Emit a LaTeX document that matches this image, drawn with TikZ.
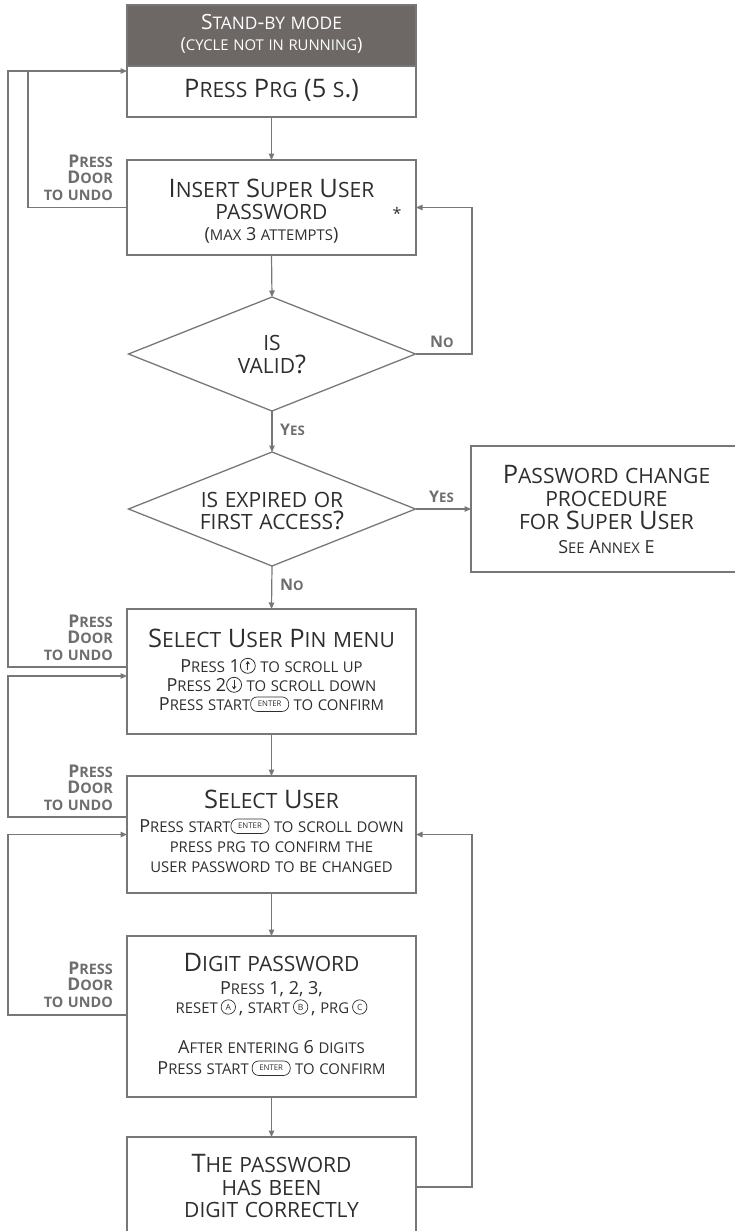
\documentclass[tikz,border=0pt]{standalone}
\usepackage{fontspec}
\setmainfont{Open Sans}
\usetikzlibrary{arrows.meta,shapes.geometric}
\definecolor{lnc}{HTML}{777777}
\definecolor{hdrc}{HTML}{6D6866}
\definecolor{txtc}{HTML}{2E2E2E}
\definecolor{lblc}{HTML}{6E6E6E}
\makeatletter
\newcommand\scsz{\fontsize{\fpeval{0.825*\f@size}}{\f@baselineskip}\selectfont}
\makeatother
\ExplSyntaxOn
\NewDocumentCommand\fsc{m}
 {
  \str_map_inline:nn {#1}
   {
    \str_if_in:nnTF {abcdefghijklmnopqrstuvwxyz} {##1}
     { { \scsz \uppercase{##1} } }
     { ##1 }
   }
 }
\ExplSyntaxOff
\newcommand\fT{\fontsize{25.5}{23}\selectfont}
\newcommand\fS{\fontsize{18}{19}\selectfont}
\newcommand\fH{\fontsize{21}{21}\selectfont}
\newcommand\fL{\bfseries\fontsize{17.5}{16.5}\selectfont}
\newcommand\fY{\bfseries\fontsize{16}{18}\selectfont}
\newcommand\circup{\tikz[x=1pt,y=1pt,baseline=0pt]{\draw[txtc,line width=0.8pt] (0,6.2) circle[radius=7.5];\draw[txtc,line width=0.9pt,-{Stealth[length=3.5pt,width=4.5pt]}] (0,1.6) -- (0,11);}}
\newcommand\circdown{\tikz[x=1pt,y=1pt,baseline=0pt]{\draw[txtc,line width=0.8pt] (0,6.2) circle[radius=7.5];\draw[txtc,line width=0.9pt,-{Stealth[length=3.5pt,width=4.5pt]}] (0,10.8) -- (0,1.4);}}
\newcommand\circlet[1]{\tikz[x=1pt,y=1pt,baseline=0pt]{\draw[txtc,line width=0.7pt] (0,6) circle[radius=7.2];\node[anchor=center,inner sep=0pt,text=txtc,font=\fontsize{8.5}{8.5}\selectfont] (cl) at (0,6) {#1};}}
\newcommand\enterkey{\tikz[x=1pt,y=1pt,baseline=0pt]{\node[anchor=center,draw=txtc,line width=0.7pt,rounded corners=6.5pt,inner sep=0pt,minimum width=38pt,minimum height=14.5pt,text=txtc,font=\fontsize{7.8}{8}\selectfont] (ek) at (0,5.8) {ENTER};}}
\begin{document}
\begin{tikzpicture}[x=1pt,y=-1pt,
  bx/.style={draw=lnc,line width=1.3pt,minimum width=289pt,inner sep=0pt,outer sep=0pt},
  dia/.style={draw=lnc,line width=1.3pt,diamond,minimum width=287pt,minimum height=114pt,inner sep=0pt,outer sep=0pt},
  arr/.style={draw=lnc,line width=1.2pt,-{Triangle[length=6.5pt,width=5.5pt]}},
  wire/.style={draw=lnc,line width=1.2pt},
  tx/.style={inner sep=0pt,anchor=base,text=txtc},
  lb/.style={inner sep=0pt,anchor=base east,text=lblc,font=\fL},
  yn/.style={inner sep=0pt,anchor=base west,text=lblc,font=\fY}]
\useasboundingbox (0,0) rectangle (735,1231);
\clip (0,0) rectangle (735,1231);
% boxes
\node[bx,fill=hdrc,minimum height=61pt] (hdr) at (271.5,35.5) {};
\node[bx,minimum height=51pt] (prg) at (271.5,91.5) {};
\node[bx,minimum height=95pt] (ins) at (271.5,207.5) {};
\node[dia] (d1) at (272,354) {};
\node[dia] (d2) at (272,509) {};
\node[bx,minimum width=271pt,minimum height=126pt] (pc) at (606.5,509) {};
\node[bx,minimum height=125pt] (pin) at (271.5,671.5) {};
\node[bx,minimum height=117pt] (su) at (271.5,834.5) {};
\node[bx,minimum height=161pt] (dg) at (271.5,1016.5) {};
\node[bx,minimum height=100pt] (fin) at (271.5,1187) {};
% texts
\node[tx,text=white,font=\fH] (h1) at (271.5,30) {\fsc{Stand-by mode}};
\node[tx,text=white,font=\fS] (h2) at (271.5,51) {\fsc{(cycle not in running)}};
\node[tx,font=\fT] (p1) at (271.5,97) {\fsc{Press Prg (5 s.)}};
\node[tx,font=\fT] (i1) at (271.5,197) {\fsc{Insert Super User}};
\node[tx,font=\fT] (i2) at (271.5,219) {\fsc{password}};
\node[tx,font=\fS] (i3) at (271.5,240) {\fsc{(max 3 attempts)}};
\node[tx,font=\fontsize{16}{16}\selectfont] (ast) at (397,219) {*};
\node[tx,font=\fT] (v1) at (272,350) {\fsc{is}};
\node[tx,font=\fT] (v2) at (272,373) {\fsc{valid?}};
\node[tx,font=\fT] (e1) at (272,507) {\fsc{is expired or}};
\node[tx,font=\fT] (e2) at (272,529) {\fsc{first access?}};
\node[tx,font=\fT] (c1) at (606.5,483) {\fsc{Password change}};
\node[tx,font=\fT] (c2) at (606.5,506) {\fsc{procedure}};
\node[tx,font=\fT] (c3) at (606.5,529) {\fsc{for Super User}};
\node[tx,font=\fS] (c4) at (606.5,553) {\fsc{See Annex E}};
\node[tx,font=\fT] (s1) at (271.5,647) {\fsc{Select User Pin menu}};
\node[tx,font=\fS] (s2) at (271.5,672) {\fsc{Press 1}\circup\ \fsc{to scroll up}};
\node[tx,font=\fS] (s3) at (271.5,691) {\fsc{Press 2}\circdown\ \fsc{to scroll down}};
\node[tx,font=\fS] (s4) at (271.5,710) {\fsc{Press start}\enterkey\ \fsc{to confirm}};
\node[tx,font=\fT] (u1) at (271.5,808) {\fsc{Select User}};
\node[tx,font=\fS] (u2) at (271.5,832) {\fsc{Press start}\enterkey\ \fsc{to scroll down}};
\node[tx,font=\fS] (u3) at (271.5,852) {\fsc{press prg to confirm the}};
\node[tx,font=\fS] (u4) at (271.5,872) {\fsc{user password to be changed}};
\node[tx,font=\fT] (g1) at (271.5,971) {\fsc{Digit password}};
\node[tx,font=\fS] (g2) at (271.5,994) {\fsc{Press 1, 2, 3,}};
\node[tx,font=\fS] (g3) at (271.5,1013) {\fsc{reset}\,\circlet{A}\,, \fsc{start}\,\circlet{B}\,, \fsc{prg}\,\circlet{C}};
\node[tx,font=\fS] (g4) at (271.5,1053) {\fsc{After entering 6 digits}};
\node[tx,font=\fS] (g5) at (271.5,1074) {\fsc{Press start}\,\enterkey\ \fsc{to confirm}};
\node[tx,font=\fT] (f1) at (271.5,1172) {\fsc{The password}};
\node[tx,font=\fT] (f2) at (271.5,1195) {\fsc{has been}};
\node[tx,font=\fT] (f3) at (271.5,1217) {\fsc{digit correctly}};
% undo labels
\foreach \yy/\nn in {167/a,627/b,777/c,974/d}{
  \node[lb] (pr\nn) at (113,\yy) {\fsc{Press}};
  \node[lb] (do\nn) at (113,\yy+16.5) {\fsc{Door}};
  \node[lb] (un\nn) at (113,\yy+33) {\fsc{to undo}};
}
\node[yn] (yes1) at (280,435) {\fsc{Yes}};
\node[yn] (no1) at (430,347) {\fsc{No}};
\node[yn] (yes2) at (429,502) {\fsc{Yes}};
\node[yn] (no2) at (280,590) {\fsc{No}};
% connectors
\draw[arr] (prg.south) -- (ins.north);
\draw[arr] (ins.south) -- (d1.north);
\draw[arr] (d1.east) -| ([xshift=56pt]ins.east) -- (ins.east);
\draw[arr] (d1.south) -- (d2.north);
\draw[arr] (d2.east) -- (pc.west);
\draw[arr] (d2.south) -- (pin.north);
\draw[arr] (pin.south) -- (su.north);
\draw[arr] (su.south) -- (dg.north);
\draw[arr] (dg.south) -- (fin.north);
\draw[arr] (fin.east) -| ([xshift=56pt]su.east) -- (su.east);
\draw[wire] (ins.west) -| ([xshift=-99pt,yshift=20.5pt]prg.west);
\draw[arr] ([yshift=4.5pt]pin.west) -| ([xshift=-119pt,yshift=20.5pt]prg.west) -- ([yshift=20.5pt]prg.west);
\draw[arr] ([yshift=17.5pt]su.west) -| ([xshift=-119pt,yshift=-4.5pt]pin.west) -- ([yshift=-4.5pt]pin.west);
\draw[arr] ([yshift=1.5pt]dg.west) -| ([xshift=-119pt]su.west) -- (su.west);
\end{tikzpicture}
\end{document}
